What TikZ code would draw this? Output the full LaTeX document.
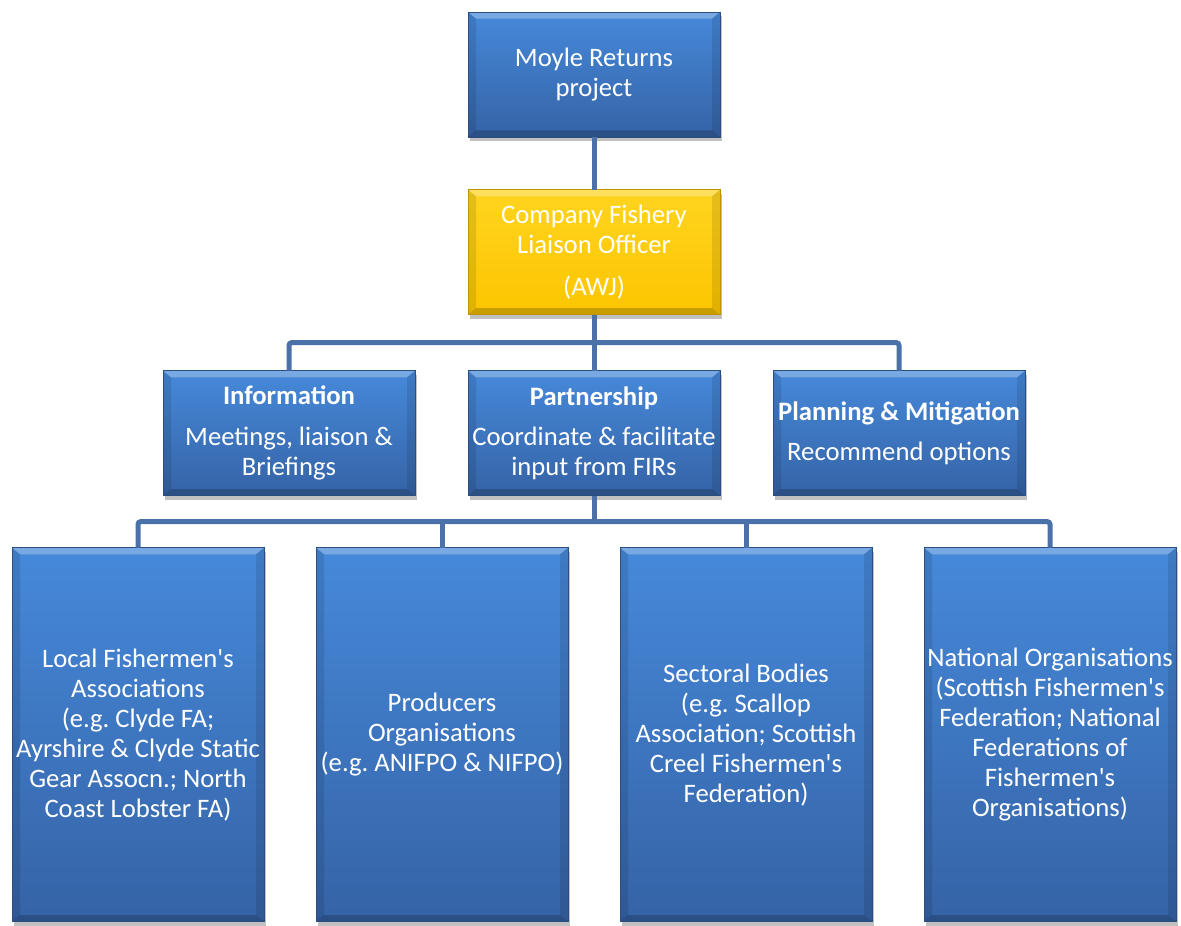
\documentclass[tikz,border=0pt]{standalone}
\usepackage{fontspec}
\setmainfont{Carlito}
\usetikzlibrary{positioning, shadows, calc}
\frenchspacing

\definecolor{boxtop}{HTML}{4689DA}
\definecolor{boxbot}{HTML}{3563A6}
\definecolor{goldtop}{HTML}{FFD41F}
\definecolor{goldbot}{HTML}{FCC500}
\definecolor{linkblue}{HTML}{4A72A8}
\definecolor{rimblue}{HTML}{2B4E80}
\newcommand{\ap}{\textquotesingle}

\begin{document}
\begin{tikzpicture}[x=0.75pt, y=-0.75pt, node distance=39.75pt, every node/.style={font=\fontsize{20}{22.5}\selectfont}]
            \tikzset{
                box/.style={
                        rectangle, draw=rimblue, line width=0.6pt, top color=boxtop, bottom color=boxbot,
                        text=white, align=center, inner sep=1pt, outer sep=0pt,
                        minimum width=189pt, minimum height=93.75pt,
                        drop shadow={shadow xshift=1.2pt, shadow yshift=-3pt, opacity=0.35, fill=black!70},
                        path picture={
                                \fill[white, opacity=0.28] (path picture bounding box.north west) -- (path picture bounding box.north east)
                                    -- ([shift={(-6pt,-5pt)}]path picture bounding box.north east) -- ([shift={(6pt,-5pt)}]path picture bounding box.north west) -- cycle;
                                \fill[black, opacity=0.1] (path picture bounding box.north west) -- ([shift={(6pt,-5pt)}]path picture bounding box.north west)
                                    -- ([shift={(6pt,5pt)}]path picture bounding box.south west) -- (path picture bounding box.south west) -- cycle;
                                \fill[black, opacity=0.1] (path picture bounding box.north east) -- ([shift={(-6pt,-5pt)}]path picture bounding box.north east)
                                    -- ([shift={(-6pt,5pt)}]path picture bounding box.south east) -- (path picture bounding box.south east) -- cycle;
                                \fill[black, opacity=0.2] (path picture bounding box.south west) -- ([shift={(6pt,5pt)}]path picture bounding box.south west)
                                    -- ([shift={(-6pt,5pt)}]path picture bounding box.south east) -- (path picture bounding box.south east) -- cycle;
                            }
                    },
                goldbox/.style={box, draw=goldbot!75!black, top color=goldtop, bottom color=goldbot},
                tallbox/.style={box, minimum height=280.5pt},
                link/.style={draw=linkblue, line width=3.75pt, rounded corners=2pt}
            }
            \useasboundingbox (0,0) rectangle (1181,925);

            % Project and liaison officer
            \node[box] (moyle) at (594,74.5) {Moyle Returns\\project};
            \node[goldbox, below=39.5pt of moyle] (fclo) {Company Fishery\\Liaison Officer\\[9pt](AWJ)};

            % Roles
            \node[box, below=42pt of fclo] (partner) {\textbf{Partnership}\\[8pt]Coordinate \& facilitate\\input from FIRs};
            \node[box, left=of partner] (info) {\textbf{Information}\\[8pt]Meetings, liaison \&\\Briefings};
            \node[box, right=of partner] (plan) {\textbf{Planning \& Mitigation}\\[8pt]Recommend options};

            % Fishing representatives
            \node[tallbox, below left=39pt and 19.5pt of partner.south] (producers) {Producers\\Organisations\\(e.g. ANIFPO \& NIFPO)};
            \node[tallbox, left=39pt of producers] (local) {Local Fishermen\ap s\\Associations\\(e.g. Clyde FA;\\Ayrshire \& Clyde Static\\Gear Assocn.; North\\Coast Lobster FA)};
            \node[tallbox, right=39pt of producers] (sectoral) {Sectoral Bodies\\(e.g. Scallop\\Association; Scottish\\Creel Fishermen\ap s\\Federation)};
            \node[tallbox, right=39pt of sectoral] (national) {National Organisations\\(Scottish Fishermen\ap s\\Federation; National\\Federations of\\Fishermen\ap s\\Organisations)};

            % Connectors
            \coordinate (bus1) at ($(fclo.south)!0.5!(partner.north)$);
            \coordinate (bus2) at ($(partner.south)!0.5!(producers.north -| partner)$);
            \draw[link] (moyle) -- (fclo);
            \draw[link] (fclo) -- (partner);
            \draw[link] (info.north) |- (bus1) -| (plan.north);
            \draw[link] (partner.south) -- (bus2);
            \draw[link] (local.north) |- (bus2) -| (national.north);
            \draw[link] (producers.north) -- (producers.north |- bus2);
            \draw[link] (sectoral.north) -- (sectoral.north |- bus2);
        \end{tikzpicture}
\end{document}
